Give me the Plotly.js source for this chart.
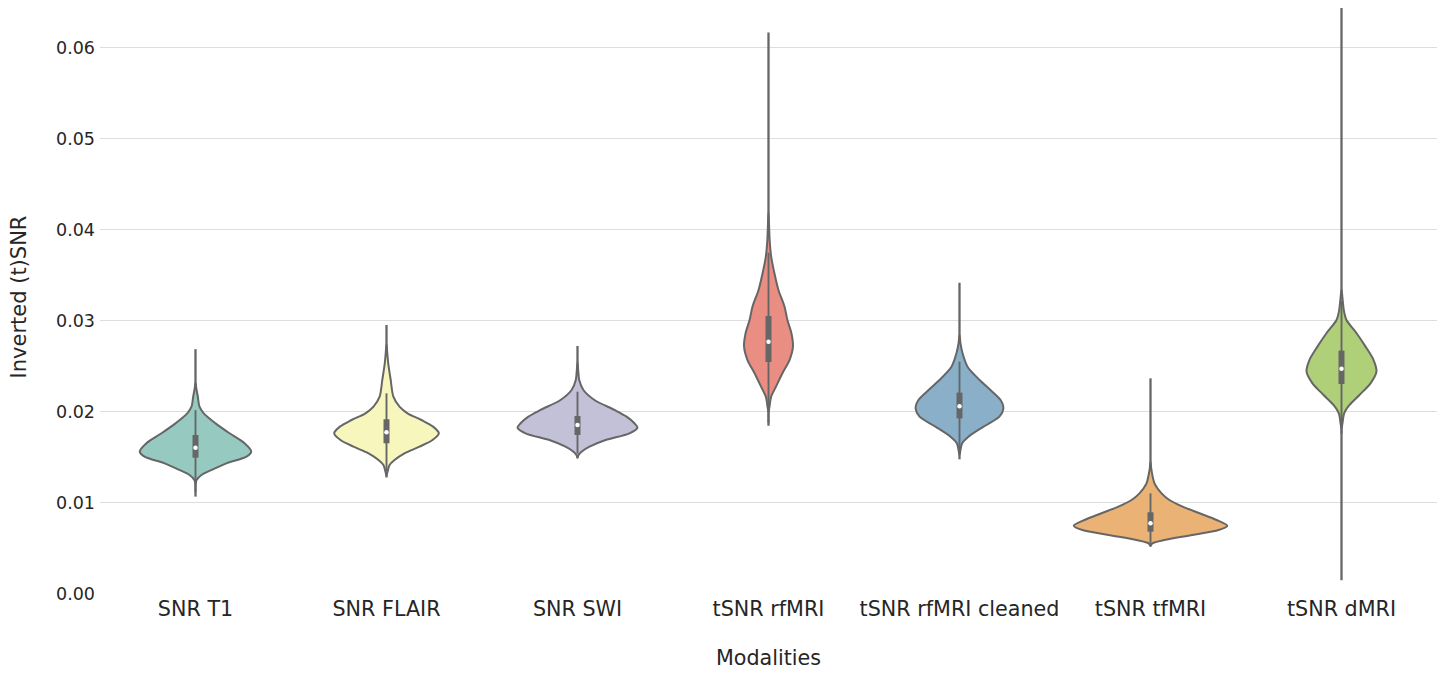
<!DOCTYPE html>
<html>
<head>
<meta charset="utf-8">
<script src="https://cdn.plot.ly/plotly-3.0.1.min.js"></script>
<style>html,body{margin:0;padding:0;background:#fff;}#chart{width:1453px;height:675px;}</style>
</head>
<body>
<div id="chart"></div>
<script>
// Categories (modalities)
const categories = ["SNR T1", "SNR FLAIR", "SNR SWI", "tSNR rfMRI", "tSNR rfMRI cleaned", "tSNR tfMRI", "tSNR dMRI"];

// Violin body profiles: value levels and half-widths (in category units)
const levelsT1 = [0.0121, 0.0125, 0.01308, 0.01363, 0.01436, 0.01509, 0.01564, 0.01656, 0.01766, 0.01875, 0.01985, 0.02058, 0.0217, 0.0225, 0.0232];
const widthsT1 = [0, 0.005, 0.031, 0.084, 0.162, 0.267, 0.292, 0.257, 0.178, 0.105, 0.043, 0.021, 0.012, 0.005, 0];

const levelsFLAIR = [0.0130, 0.0134, 0.01418, 0.01473, 0.01546, 0.01619, 0.01692, 0.01766, 0.01839, 0.01912, 0.01985, 0.02058, 0.02168, 0.02352, 0.02535, 0.0265, 0.0275];
const widthsFLAIR = [0, 0.005, 0.016, 0.042, 0.094, 0.173, 0.241, 0.274, 0.244, 0.183, 0.11, 0.068, 0.036, 0.022, 0.009, 0.004, 0];

const levelsSWI = [0.0150, 0.01525, 0.01564, 0.01619, 0.01692, 0.01766, 0.01827, 0.01876, 0.01949, 0.02022, 0.02132, 0.02242, 0.02352, 0.0245, 0.0255];
const widthsSWI = [0, 0.005, 0.021, 0.063, 0.147, 0.272, 0.314, 0.298, 0.257, 0.194, 0.089, 0.031, 0.009, 0.004, 0];

const levelsRf = [0.0200, 0.02058, 0.02168, 0.02278, 0.02425, 0.02571, 0.02718, 0.02865, 0.03011, 0.03157, 0.03341, 0.03524, 0.03707, 0.0389, 0.0405, 0.0420];
const widthsRf = [0, 0.005, 0.014, 0.039, 0.073, 0.11, 0.128, 0.12, 0.099, 0.084, 0.052, 0.031, 0.014, 0.006, 0.003, 0];

const levelsRfClean = [0.0153, 0.01582, 0.01656, 0.01729, 0.01839, 0.01949, 0.0204, 0.02132, 0.02242, 0.02352, 0.02498, 0.02645, 0.02755, 0.0285];
const widthsRfClean = [0, 0.005, 0.014, 0.047, 0.126, 0.209, 0.23, 0.215, 0.162, 0.105, 0.042, 0.016, 0.005, 0];

const levelsTf = [0.0053, 0.00557, 0.00593, 0.00648, 0.00703, 0.00751, 0.00813, 0.00887, 0.0096, 0.01033, 0.01106, 0.01216, 0.01363, 0.0145];
const widthsTf = [0, 0.01, 0.073, 0.22, 0.356, 0.402, 0.346, 0.257, 0.168, 0.099, 0.058, 0.021, 0.005, 0];

const levelsD = [0.0182, 0.01876, 0.01985, 0.02077, 0.02187, 0.02315, 0.02443, 0.02571, 0.02718, 0.02865, 0.03011, 0.03121, 0.03231, 0.0335];
const widthsD = [0, 0.005, 0.014, 0.042, 0.094, 0.152, 0.183, 0.168, 0.126, 0.079, 0.026, 0.012, 0.006, 0];

// Extent of each violin (thin tails)
const dataMin = [0.0107, 0.0128, 0.0149, 0.0185, 0.0148, 0.0052, 0.0015];
const dataMax = [0.0269, 0.02956, 0.02725, 0.0617, 0.0342, 0.0237, 0.0644];

// Inner box statistics
const q1 = [0.01498, 0.01656, 0.01747, 0.02549, 0.0193, 0.00685, 0.02308];
const medians = [0.01608, 0.01777, 0.01857, 0.02773, 0.02062, 0.00777, 0.02476];
const q3 = [0.01747, 0.0192, 0.01956, 0.03055, 0.02212, 0.00898, 0.02674];
const whiskerLow = [0.0112, 0.0135, 0.0154, 0.0188, 0.0153, 0.0054, 0.0176];
const whiskerHigh = [0.0202, 0.02205, 0.02223, 0.0375, 0.02553, 0.01106, 0.0322];

// Tick labels
const yTickVals = [0, 0.01, 0.02, 0.03, 0.04, 0.05, 0.06];

const fillColors = ["#96cac1", "#f6f6bd", "#c3c1d8", "#ea8e83", "#8aafc9", "#eab375", "#afcf78"];
const outline = "#666666";
const textColor = "#262626";
const fontFamily = "DejaVu Sans";

const levels = [levelsT1, levelsFLAIR, levelsSWI, levelsRf, levelsRfClean, levelsTf, levelsD];
const widths = [widthsT1, widthsFLAIR, widthsSWI, widthsRf, widthsRfClean, widthsTf, widthsD];

const traces = [];

// tails (drawn first, bodies cover the middle)
const tx = [], ty = [];
categories.forEach((c, i) => { tx.push(i, i, null); ty.push(dataMin[i], dataMax[i], null); });
traces.push({type: "scatter", mode: "lines", x: tx, y: ty, line: {color: outline, width: 2.3}, hoverinfo: "skip", showlegend: false});

categories.forEach((cat, i) => {
  const lv = levels[i], wd = widths[i], n = lv.length;
  const xs = [], ys = [];
  for (let k = 0; k < n; k++) { xs.push(i + wd[k]); ys.push(lv[k]); }
  for (let k = n - 2; k >= 0; k--) { xs.push(i - wd[k]); ys.push(lv[k]); }
  traces.push({
    type: "scatter", mode: "lines", x: xs, y: ys, fill: "toself",
    fillcolor: fillColors[i], line: {color: outline, width: 2, shape: "spline", smoothing: 0.8},
    hoverinfo: "skip", showlegend: false, name: cat
  });
});

// whiskers and boxes
const wx = [], wy = [], bx = [], by = [];
categories.forEach((c, i) => {
  wx.push(i, i, null); wy.push(whiskerLow[i], whiskerHigh[i], null);
  bx.push(i, i, null); by.push(q1[i], q3[i], null);
});
traces.push({type: "scatter", mode: "lines", x: wx, y: wy, line: {color: outline, width: 1.9}, hoverinfo: "skip", showlegend: false});
traces.push({type: "scatter", mode: "lines", x: bx, y: by, line: {color: outline, width: 6}, hoverinfo: "skip", showlegend: false});
traces.push({type: "scatter", mode: "markers", x: categories.map((c, i) => i), y: medians,
  marker: {color: "#ffffff", size: 4.5, line: {width: 0}}, hoverinfo: "skip", showlegend: false});

const layout = {
  width: 1453, height: 675,
  margin: {l: 100, r: 16, t: 0, b: 81},
  paper_bgcolor: "#ffffff", plot_bgcolor: "#ffffff",
  font: {family: fontFamily, color: textColor},
  showlegend: false,
  xaxis: {
    range: [-0.5, 6.5], tickmode: "array", tickvals: categories.map((c, i) => i), ticktext: categories,
    showgrid: false, zeroline: false, showline: false, ticks: "",
    tickfont: {size: 20.7, color: textColor, family: fontFamily},
    title: {text: "Modalities", font: {size: 20.7, color: textColor, family: fontFamily}, standoff: 30}
  },
  yaxis: {
    range: [0, 0.06527], tickmode: "array", tickvals: yTickVals, tickformat: ".2f",
    showgrid: true, gridcolor: "#dddddd", gridwidth: 1, zeroline: false, showline: false, ticks: "",
    ticklabelstandoff: 4,
    tickfont: {size: 17.5, color: textColor, family: fontFamily},
    title: {text: "Inverted (t)SNR", font: {size: 21, color: textColor, family: fontFamily}, standoff: 23}
  }
};

Plotly.newPlot("chart", traces, layout, {staticPlot: true, displayModeBar: false});
</script>
</body>
</html>
